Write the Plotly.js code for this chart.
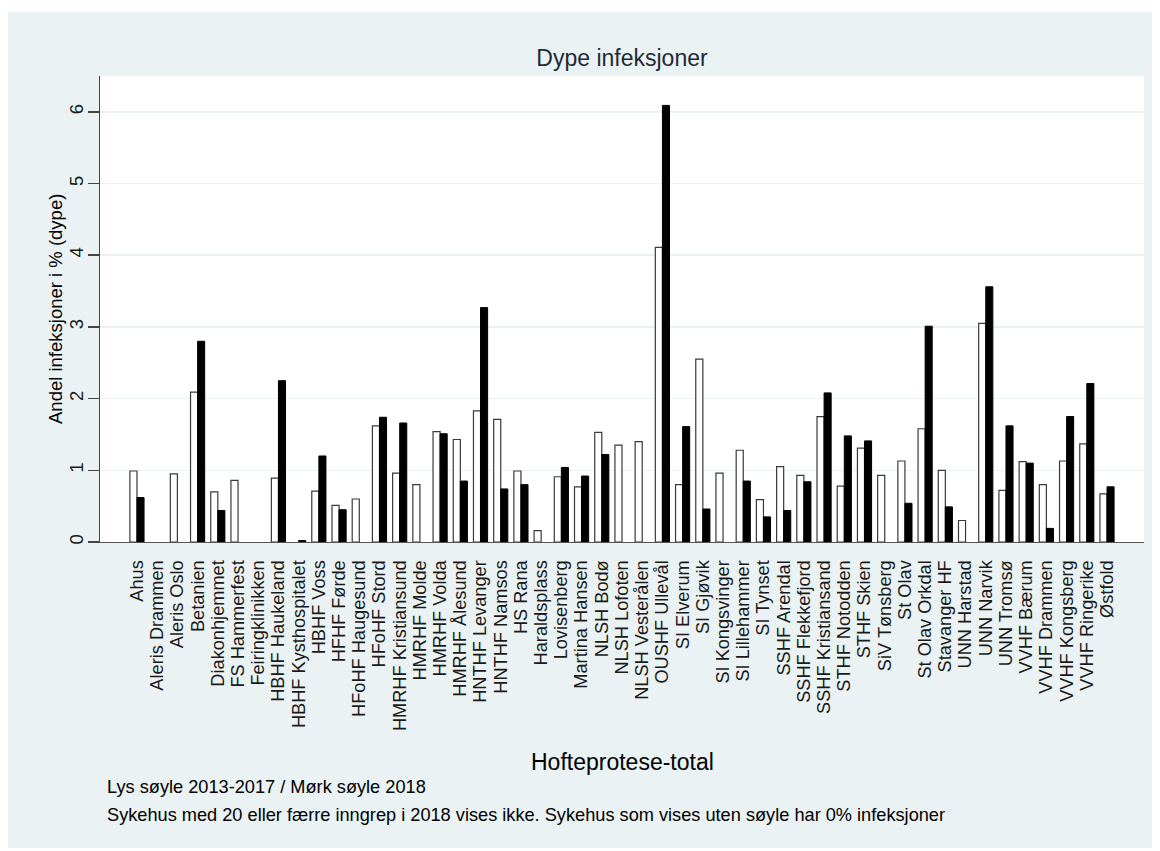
<!DOCTYPE html>
<html>
<head>
<meta charset="utf-8">
<script src="https://cdn.plot.ly/plotly-3.0.1.min.js"></script>
<style>
  html, body { margin: 0; padding: 0; background: #ffffff; width: 1160px; height: 851px; overflow: hidden; }
  #chart { position: absolute; left: 8px; top: 12px; width: 1144px; height: 836px; }
</style>
</head>
<body>
<div id="chart"></div>
<script>
const hospitals = [
  "Ahus","Aleris Drammen","Aleris Oslo","Betanien","Diakonhjemmet","FS Hammerfest",
  "Feiringklinikken","HBHF Haukeland","HBHF Kysthospitalet","HBHF Voss","HFHF Førde",
  "HFoHF Haugesund","HFoHF Stord","HMRHF Kristiansund","HMRHF Molde","HMRHF Volda",
  "HMRHF Ålesund","HNTHF Levanger","HNTHF Namsos","HS Rana","Haraldsplass","Lovisenberg",
  "Martina Hansen","NLSH Bodø","NLSH Lofoten","NLSH Vesterålen","OUSHF Ullevål",
  "SI Elverum","SI Gjøvik","SI Kongsvinger","SI Lillehammer","SI Tynset","SSHF Arendal",
  "SSHF Flekkefjord","SSHF Kristiansand","STHF Notodden","STHF Skien","SiV Tønsberg",
  "St Olav","St Olav Orkdal","Stavanger HF","UNN Harstad","UNN Narvik","UNN Tromsø",
  "VVHF Bærum","VVHF Drammen","VVHF Kongsberg","VVHF Ringerike","Østfold"
];
// Lys søyle: 2013-2017
const period2013_2017 = [
  0.99, null, 0.95, 2.09, 0.70, 0.86,
  null, 0.89, null, 0.71, 0.51,
  0.60, 1.62, 0.96, 0.80, 1.54,
  1.43, 1.83, 1.71, 0.99, 0.16, 0.91,
  0.77, 1.53, 1.35, 1.40, 4.11,
  0.80, 2.55, 0.96, 1.28, 0.59, 1.05,
  0.93, 1.75, 0.78, 1.31, 0.93,
  1.13, 1.58, 1.00, 0.30, 3.05, 0.72,
  1.12, 0.80, 1.13, 1.37, 0.67
];
// Mørk søyle: 2018
const year2018 = [
  0.62, null, null, 2.80, 0.44, null,
  null, 2.25, 0.02, 1.20, 0.45,
  null, 1.74, 1.66, null, 1.51,
  0.85, 3.27, 0.74, 0.80, null, 1.04,
  0.92, 1.22, null, null, 6.09,
  1.61, 0.46, null, 0.85, 0.35, 0.44,
  0.84, 2.08, 1.48, 1.41, null,
  0.54, 3.01, 0.49, null, 3.56, 1.62,
  1.10, 0.19, 1.75, 2.21, 0.77
];
const yTicks = [0, 1, 2, 3, 4, 5, 6];

const font = "Liberation Sans, Arial, sans-serif";
const gridCol = "#eaf2f3";

const traces = [
  {
    type: "bar", x: hospitals, y: period2013_2017, name: "2013-2017",
    marker: { color: "#ffffff", line: { color: "#3a3a3a", width: 1.2 } }
  },
  {
    type: "bar", x: hospitals, y: year2018, name: "2018",
    marker: { color: "#000000", line: { color: "#000000", width: 1 } }
  }
];

const layout = {
  width: 1144, height: 836,
  paper_bgcolor: gridCol, plot_bgcolor: "#ffffff",
  margin: { l: 92, r: 8, t: 64, b: 306, pad: 0 },
  showlegend: false,
  barmode: "group", bargap: 0.3, bargroupgap: 0,
  font: { family: font, color: "#1a1a1a" },
  title: {
    text: "Dype infeksjoner", font: { family: font, size: 23, color: "#1e2a36" },
    x: 0.5, xref: "paper", xanchor: "center",
    y: 1 - 46 / 836, yref: "container", yanchor: "middle"
  },
  xaxis: {
    type: "category", range: [-1.83, 49.83],
    tickmode: "array", tickvals: hospitals, ticktext: hospitals,
    tickangle: -90, tickfont: { family: font, size: 18.2, color: "#1a1a1a" },
    showgrid: false, showline: true, linecolor: "#555555", linewidth: 1,
    ticks: "", ticklabelstandoff: 10, automargin: false, fixedrange: true
  },
  yaxis: {
    range: [0, 6.5], tickvals: yTicks, ticktext: yTicks.map(String),
    tickangle: -90, tickfont: { family: font, size: 18.5, color: "#1a1a1a" },
    showgrid: true, gridcolor: gridCol, gridwidth: 1.5,
    zeroline: false, showline: true, linecolor: "#444444", linewidth: 1.5,
    ticks: "outside", ticklen: 11, tickwidth: 1.5, tickcolor: "#444444",
    ticklabelstandoff: -3,
    automargin: false, fixedrange: true
  },
  annotations: [
    { text: "Hofteprotese-total", xref: "paper", yref: "paper", x: 0.5, y: (542 - 762) / 466,
      xanchor: "center", yanchor: "middle", showarrow: false, font: { family: font, size: 23, color: "#000000" } },
    { text: "Andel infeksjoner i % (dype)", xref: "paper", yref: "paper", x: -45 / 1044, y: 0.5,
      xanchor: "center", yanchor: "middle", textangle: -90, showarrow: false,
      font: { family: font, size: 18.5, color: "#000000" } },
    { text: "Lys søyle 2013-2017 / Mørk søyle 2018", xref: "paper", yref: "paper",
      x: 5 / 1044, y: (542 - 787) / 466, xanchor: "left", yanchor: "middle", showarrow: false,
      font: { family: font, size: 18.2, color: "#000000" } },
    { text: "Sykehus med 20 eller færre inngrep i 2018 vises ikke. Sykehus som vises uten søyle har 0% infeksjoner",
      xref: "paper", yref: "paper", x: 5 / 1044, y: (542 - 815) / 466, xanchor: "left", yanchor: "middle",
      showarrow: false, font: { family: font, size: 18.2, color: "#000000" } }
  ]
};

Plotly.newPlot("chart", traces, layout, { staticPlot: true, displayModeBar: false });
</script>
</body>
</html>
